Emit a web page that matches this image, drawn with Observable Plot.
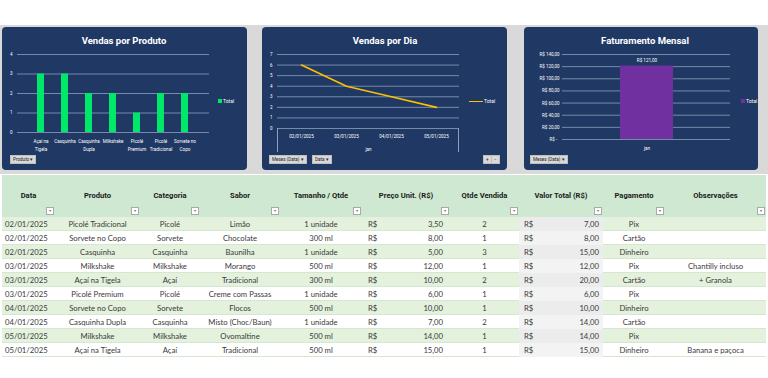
<!DOCTYPE html>
<html><head><meta charset="utf-8">
<script src="https://cdn.jsdelivr.net/npm/d3@7"></script>
<script src="https://cdn.jsdelivr.net/npm/@observablehq/plot@0.6"></script>
<style>
body{margin:0;background:#fff;}
#root{position:relative;width:768px;height:378px;overflow:hidden;background:#fff;font-family:Lato,"Open Sans",sans-serif;}
.abs{position:absolute;}
.panel{position:absolute;background:#1f3864;border-radius:4px;}
.title{position:absolute;color:#fff;font-family:Roboto,sans-serif;font-weight:700;font-size:9.5px;text-align:center;white-space:nowrap;}
.btn{position:absolute;background:#d9d9d9;border:0.5px solid #bfbfbf;color:#222;font-family:Roboto,sans-serif;font-size:4.6px;line-height:7px;height:7px;padding:0 2px;box-sizing:content-box;white-space:nowrap;}
.leg{position:absolute;color:#fff;font-family:Roboto,sans-serif;font-size:5px;line-height:6px;white-space:nowrap;}
.cell{position:absolute;box-sizing:border-box;font-size:7.7px;color:#3a3a3a;white-space:nowrap;overflow:hidden;line-height:14px;height:14px;}
.hcell{position:absolute;box-sizing:border-box;font-family:Roboto,sans-serif;font-weight:700;font-size:7.6px;color:#1a1a1a;text-align:center;white-space:nowrap;}
.flt{position:absolute;width:6px;height:6px;background:#fff;border:0.5px solid #aaa;font-size:4px;line-height:6px;text-align:center;color:#666;}
svg{overflow:visible;}
</style></head>
<body><div id="root"></div>
<script>
// ---------- data ----------
const products = ["Açaí na Tigela","Casquinha","Casquinha Dupla","Milkshake","Picolé Premium","Picolé Tradicional","Sorvete no Copo"];
const productLabels = ["Açaí na\nTigela","Casquinha","Casquinha\nDupla","Milkshake","Picolé\nPremium","Picolé\nTradicional","Sorvete no\nCopo"];
const productTotals = [3,3,2,2,1,2,2];
const productTicks = [0,1,2,3,4];

const days = ["02/01/2025","03/01/2025","04/01/2025","05/01/2025"];
const dayTotals = [6,4,3,2];
const dayTicks = [0,1,2,3,4,5,6,7];

const months = ["jan"];
const monthRevenue = [121];
const revenueTicks = [0,20,40,60,80,100,120,140];

const colHeaders = ["Data","Produto","Categoria","Sabor","Tamanho / Qtde","Preço Unit. (R$)","Qtde Vendida","Valor Total (R$)","Pagamento","Observações"];
const tDates = ["02/01/2025","02/01/2025","02/01/2025","03/01/2025","03/01/2025","03/01/2025","04/01/2025","04/01/2025","05/01/2025","05/01/2025"];
const tProducts = ["Picolé Tradicional","Sorvete no Copo","Casquinha","Milkshake","Açaí na Tigela","Picolé Premium","Sorvete no Copo","Casquinha Dupla","Milkshake","Açaí na Tigela"];
const tCategories = ["Picolé","Sorvete","Casquinha","Milkshake","Açaí","Picolé","Sorvete","Casquinha","Milkshake","Açaí"];
const tFlavors = ["Limão","Chocolate","Baunilha","Morango","Tradicional","Creme com Passas","Flocos","Misto (Choc/Baun)","Ovomaltine","Tradicional"];
const tSizes = ["1 unidade","300 ml","1 unidade","500 ml","300 ml","1 unidade","500 ml","1 unidade","500 ml","500 ml"];
const tPrices = [3.5,8,5,12,10,6,10,7,14,15];
const tQty = [2,1,3,1,2,1,1,2,1,1];
const tTotals = [7,8,15,12,20,6,10,14,14,15];
const tPayments = ["Pix","Cartão","Dinheiro","Pix","Cartão","Pix","Dinheiro","Cartão","Pix","Dinheiro"];
const tNotes = ["","","","Chantilly incluso","+ Granola","","","","","Banana e paçoca"];

// ---------- layout helpers ----------
const root = d3.select("#root");
const fmt = v => v.toFixed(2).replace(".", ",");
const GRID = "#8e9fbd";

root.append("div").attr("class","abs").style("left","0px").style("top","25px").style("width","768px").style("height","149px").style("background","#d9d9d9");

function panel(x, y, w, h, title, titleX) {
  const p = root.append("div").attr("class","panel").style("left",x+"px").style("top",y+"px").style("width",w+"px").style("height",h+"px");
  root.append("div").attr("class","title").style("left",(titleX-80)+"px").style("width","160px").style("top","35px").text(title);
  return p;
}
function place(svg, x, y) {
  const d = root.append("div").attr("class","abs").style("left",x+"px").style("top",y+"px");
  d.node().appendChild(svg);
}
function btn(x, y, label) {
  root.append("div").attr("class","btn").style("left",x+"px").style("top",y+"px").text(label);
}
const plotStyle = {background:"transparent", color:"#fff", fontFamily:"Roboto, sans-serif", fontSize:"5px", overflow:"visible"};

// ---------- Chart 1: Vendas por Produto ----------
panel(2, 27, 245, 143, "Vendas por Produto", 124);
const c1 = Plot.plot({
  width: 245, height: 143,
  marginLeft: 15, marginRight: 38, marginTop: 27, marginBottom: 38,
  style: plotStyle,
  x: {domain: products, padding: 0.7, label: null},
  y: {domain: [0, 4], label: null},
  marks: [
    Plot.ruleY(productTicks, {stroke: GRID, strokeWidth: 0.8}),
    Plot.barY(products, {x: d => d, y: (d, i) => productTotals[i], fill: "#00e86a"}),
    Plot.axisY({ticks: productTicks, tickSize: 0, tickPadding: 5, fontSize: 4.5, label: null, tickFormat: d => String(d)}),
    Plot.axisX({tickSize: 0, tickPadding: 5, fontSize: 4.6, lineHeight: 1.7, label: null,
      tickFormat: d => productLabels[products.indexOf(d)]})
  ]
});
place(c1, 2, 27);
root.append("div").attr("class","abs").style("left","218px").style("top","99px").style("width","4px").style("height","4px").style("background","#00e86a");
root.append("div").attr("class","leg").style("left","223px").style("top","98px").text("Total");
btn(10, 155, "Produto \u25BE");

// ---------- Chart 2: Vendas por Dia ----------
panel(262, 27, 245, 143, "Vendas por Dia", 385);
const c2 = Plot.plot({
  width: 245, height: 143,
  marginLeft: 15, marginRight: 48, marginTop: 27, marginBottom: 42,
  style: plotStyle,
  x: {type: "point", domain: days, padding: 0.5, label: null},
  y: {domain: [0, 7], label: null},
  marks: [
    Plot.ruleY(dayTicks, {stroke: GRID, strokeWidth: 0.8}),
    Plot.lineY(days, {x: d => d, y: (d, i) => dayTotals[i], stroke: "#ffc000", strokeWidth: 1.6}),
    Plot.axisY({ticks: dayTicks, tickSize: 0, tickPadding: 5, fontSize: 4.5, label: null, tickFormat: d => String(d)}),
    Plot.axisX({tickSize: 0, tickPadding: 6, fontSize: 4.6, label: null}),
    Plot.text(months, {frameAnchor: "bottom", dy: 22, text: d => d, fontSize: 4.6, fill: "#fff"})
  ]
});
place(c2, 262, 27);
root.append("div").attr("class","abs").style("left","277px").style("top","128px").style("width","182px").style("height","24px")
  .style("border-left","0.8px solid "+GRID).style("border-right","0.8px solid "+GRID).style("box-sizing","border-box");
root.append("div").attr("class","abs").style("left","469px").style("top","100.5px").style("width","14px").style("height","1.5px").style("background","#ffc000");
root.append("div").attr("class","leg").style("left","484px").style("top","98px").text("Total");
btn(269, 155, "Meses (Data) \u25BE");
btn(312, 155, "Data \u25BE");
btn(483, 155, "+");
btn(491, 155, "\u2212");

// ---------- Chart 3: Faturamento Mensal ----------
panel(524, 27, 234, 143, "Faturamento Mensal", 645);
const c3 = Plot.plot({
  width: 234, height: 143,
  marginLeft: 38, marginRight: 28, marginTop: 27, marginBottom: 31,
  style: plotStyle,
  x: {domain: months, padding: 0.52, label: null},
  y: {domain: [0, 140], label: null},
  marks: [
    Plot.ruleY(revenueTicks, {stroke: GRID, strokeWidth: 0.8}),
    Plot.barY(months, {x: d => d, y: (d, i) => monthRevenue[i], fill: "#7030a0"}),
    Plot.text(months, {x: d => d, y: (d, i) => monthRevenue[i], text: (d, i) => "R$ " + fmt(monthRevenue[i]), dy: -6, fontSize: 4.6, fill: "#fff"}),
    Plot.axisY({ticks: revenueTicks, tickSize: 0, tickPadding: 3, fontSize: 4.5, label: null,
      tickFormat: d => d === 0 ? "R$ -  " : "R$ " + fmt(d)}),
    Plot.axisX({tickSize: 0, tickPadding: 7, fontSize: 4.6, label: null})
  ]
});
place(c3, 524, 27);
root.append("div").attr("class","abs").style("left","741px").style("top","99px").style("width","4px").style("height","4px").style("background","#7030a0");
root.append("div").attr("class","leg").style("left","746px").style("top","98px").text("Total");
btn(530, 155, "Meses (Data) \u25BE");

// ---------- Table ----------
const colX = [2,55,140,200,280,362,450,519,603,665,766];
const headTop = 175, headH = 42, rowH = 14;
root.append("div").attr("class","abs").style("left","2px").style("top",headTop+"px").style("width","764px").style("height",headH+"px").style("background","#cfe8d1");
colHeaders.forEach((h, c) => {
  root.append("div").attr("class","hcell").style("left",colX[c]+"px").style("width",(colX[c+1]-colX[c])+"px").style("top","191px").text(h);
  root.append("div").attr("class","flt").style("left",(colX[c+1]-9)+"px").style("top","207px").text("\u25BE");
});
const rows = tDates.map((d, i) => [d, tProducts[i], tCategories[i], tFlavors[i], tSizes[i], tPrices[i], tQty[i], tTotals[i], tPayments[i], tNotes[i]]);
rows.forEach((r, i) => {
  const top = headTop + headH + i * rowH;
  root.append("div").attr("class","abs").style("left","2px").style("top",top+"px").style("width","764px").style("height",rowH+"px")
    .style("background", i % 2 === 0 ? "#e3f1dd" : "#ffffff").style("border-bottom","0.5px solid #d5e8cf").style("box-sizing","border-box");
  root.append("div").attr("class","abs").style("left",colX[7]+"px").style("top",top+"px").style("width",(colX[8]-colX[7])+"px").style("height",rowH+"px")
    .style("background", i % 2 === 0 ? "#ececec" : "#f3f3f3");
  r.forEach((v, c) => {
    const w = colX[c+1] - colX[c];
    const cell = root.append("div").attr("class","cell").style("left",colX[c]+"px").style("width",w+"px").style("top",top+"px");
    if (c === 0) cell.style("padding-left","3px").text(v);
    else if (c === 5 || c === 7) {
      cell.style("padding-left", c === 5 ? "6px" : "5px").style("padding-right", c === 5 ? "7px" : "4px");
      cell.append("span").text("R$");
      cell.append("span").style("float","right").text(fmt(v));
    } else cell.style("text-align","center").text(v);
  });
});
</script></body></html>
